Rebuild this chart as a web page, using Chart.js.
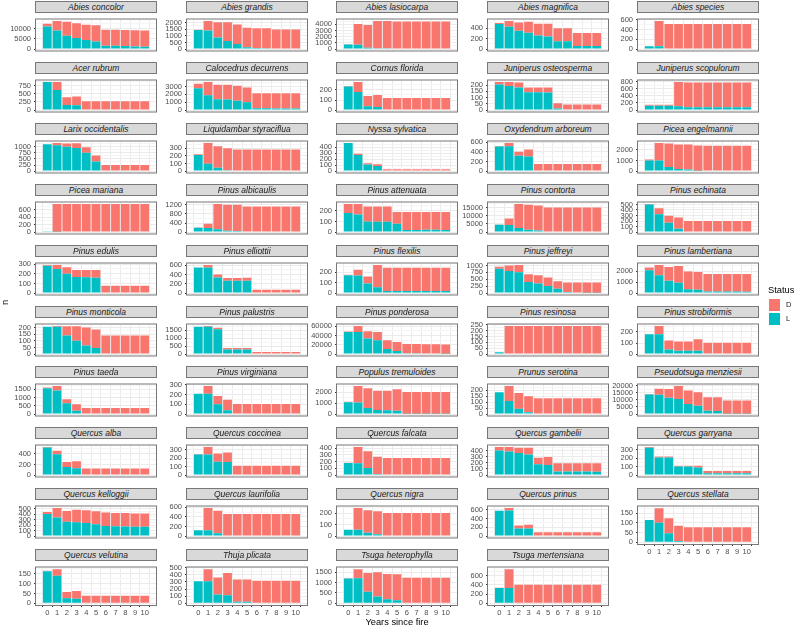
<!DOCTYPE html>
<html>
<head>
<meta charset="utf-8">
<script src="https://cdn.jsdelivr.net/npm/chart.js@4"></script>
<style>
  body { margin: 0; background: #fff; width: 796px; height: 627px; position: relative; overflow: hidden;
         font-family: "Liberation Sans", Arial, sans-serif; }
  canvas { position: absolute; }
  .strip { position: absolute; box-sizing: border-box; background: #d9d9d9; border: 1px solid #777;
           font-style: italic; font-size: 8.5px; line-height: 10px; color: #1a1a1a; text-align: center;
           white-space: nowrap; overflow: hidden; }
  .txt { position: absolute; color: #000; white-space: nowrap; }
  .key { position: absolute; }
</style>
</head>
<body>
<script>
// Data: live (L) and dead (D) counts per year since fire
const years = [0, 1, 2, 3, 4, 5, 6, 7, 8, 9, 10];

const species = [
  "Abies concolor", "Abies grandis", "Abies lasiocarpa", "Abies magnifica", "Abies species",
  "Acer rubrum", "Calocedrus decurrens", "Cornus florida", "Juniperus osteosperma", "Juniperus scopulorum",
  "Larix occidentalis", "Liquidambar styraciflua", "Nyssa sylvatica", "Oxydendrum arboreum", "Picea engelmannii",
  "Picea mariana", "Pinus albicaulis", "Pinus attenuata", "Pinus contorta", "Pinus echinata",
  "Pinus edulis", "Pinus elliottii", "Pinus flexilis", "Pinus jeffreyi", "Pinus lambertiana",
  "Pinus monticola", "Pinus palustris", "Pinus ponderosa", "Pinus resinosa", "Pinus strobiformis",
  "Pinus taeda", "Pinus virginiana", "Populus tremuloides", "Prunus serotina", "Pseudotsuga menziesii",
  "Quercus alba", "Quercus coccinea", "Quercus falcata", "Quercus gambelii", "Quercus garryana",
  "Quercus kelloggii", "Quercus laurifolia", "Quercus nigra", "Quercus prinus", "Quercus stellata",
  "Quercus velutina", "Thuja plicata", "Tsuga heterophylla", "Tsuga mertensiana"
];

const liveCounts = [
  [11200, 9200, 6600, 5500, 4500, 3800, 1700, 1600, 1500, 1300, 1100],
  [1440, 1400, 870, 600, 380, 130, 80, 70, 0, 0, 0],
  [750, 700, 200, 150, 150, 0, 0, 0, 0, 0, 0],
  [480, 430, 350, 315, 260, 240, 150, 150, 60, 60, 60],
  [60, 60, 0, 0, 0, 0, 0, 0, 0, 0, 0],
  [870, 620, 160, 150, 0, 0, 0, 0, 0, 0, 0],
  [2800, 1900, 1400, 1350, 1200, 1000, 250, 250, 200, 200, 200],
  [235, 180, 38, 30, 0, 0, 0, 0, 0, 0, 0],
  [205, 192, 180, 143, 143, 140, 12, 0, 0, 0, 0],
  [120, 120, 120, 110, 80, 80, 80, 80, 80, 80, 80],
  [1100, 1060, 1000, 950, 750, 390, 0, 0, 0, 0, 0],
  [210, 95, 45, 10, 0, 0, 0, 0, 0, 0, 0],
  [470, 270, 110, 85, 0, 0, 0, 0, 0, 0, 0],
  [510, 515, 320, 305, 0, 0, 0, 0, 0, 0, 0],
  [1000, 1000, 380, 200, 150, 30, 0, 0, 0, 0, 0],
  [8, 10, 0, 0, 0, 0, 0, 0, 0, 0, 0],
  [190, 185, 120, 60, 50, 0, 0, 0, 0, 0, 0],
  [180, 165, 100, 97, 97, 78, 20, 20, 22, 22, 20],
  [4500, 4300, 2500, 1500, 1000, 0, 0, 0, 0, 0, 0],
  [500, 325, 170, 60, 0, 0, 0, 0, 0, 0, 0],
  [282, 250, 200, 168, 165, 160, 0, 0, 0, 0, 0],
  [555, 555, 335, 265, 265, 265, 0, 0, 0, 0, 0],
  [170, 168, 92, 55, 20, 20, 20, 20, 20, 20, 20],
  [880, 800, 750, 400, 350, 260, 160, 40, 20, 10, 10],
  [2100, 1650, 1150, 950, 350, 300, 150, 150, 150, 150, 130],
  [205, 205, 140, 100, 65, 45, 0, 0, 0, 0, 0],
  [1700, 1700, 1550, 280, 280, 280, 0, 0, 0, 0, 0],
  [48000, 48000, 34000, 30000, 11000, 6500, 2000, 2000, 1500, 1500, 1000],
  [15, 0, 0, 0, 0, 0, 0, 0, 0, 0, 0],
  [180, 180, 42, 30, 30, 30, 0, 0, 0, 0, 0],
  [1560, 1420, 650, 200, 0, 0, 0, 0, 0, 0, 0],
  [210, 210, 100, 40, 0, 0, 0, 0, 0, 0, 0],
  [1100, 1080, 570, 370, 350, 300, 30, 30, 30, 30, 30],
  [185, 110, 45, 15, 0, 0, 0, 0, 0, 0, 0],
  [13700, 13600, 11500, 10500, 7000, 5800, 2300, 2200, 200, 200, 200],
  [520, 390, 150, 130, 0, 0, 0, 0, 0, 0, 0],
  [245, 245, 160, 155, 0, 0, 0, 0, 0, 0, 0],
  [180, 175, 105, 15, 0, 0, 0, 0, 0, 0, 0],
  [400, 385, 360, 335, 175, 165, 60, 60, 60, 60, 55],
  [325, 210, 210, 102, 102, 90, 22, 22, 22, 22, 22],
  [405, 340, 260, 255, 240, 215, 185, 180, 175, 172, 170],
  [120, 120, 60, 0, 0, 0, 0, 0, 0, 0, 0],
  [55, 55, 28, 15, 0, 0, 0, 0, 0, 0, 0],
  [575, 580, 175, 175, 0, 0, 0, 0, 0, 0, 0],
  [115, 100, 47, 7, 0, 0, 0, 0, 0, 0, 0],
  [163, 140, 25, 23, 0, 0, 0, 0, 0, 0, 0],
  [308, 310, 125, 112, 20, 20, 0, 0, 0, 0, 0],
  [1200, 1210, 560, 330, 190, 150, 0, 0, 0, 0, 0],
  [330, 330, 0, 0, 0, 0, 0, 0, 0, 0, 0]
];

const deadCounts = [
  [1300, 4700, 6900, 7300, 7500, 7900, 7900, 7900, 7900, 8000, 8100],
  [10, 720, 1140, 1410, 1470, 1470, 1490, 1500, 1480, 1480, 1480],
  [50, 3350, 3700, 4400, 4400, 4450, 4450, 4450, 4450, 4450, 4450],
  [20, 110, 160, 210, 225, 245, 250, 250, 250, 250, 250],
  [0, 520, 515, 515, 515, 515, 515, 515, 515, 515, 515],
  [0, 250, 240, 270, 270, 270, 270, 270, 270, 270, 270],
  [550, 1700, 1850, 1900, 1900, 1900, 1900, 1900, 1950, 1950, 1950],
  [5, 100, 102, 120, 120, 120, 120, 120, 120, 120, 120],
  [20, 33, 40, 37, 37, 40, 43, 45, 45, 45, 45],
  [30, 30, 30, 680, 690, 690, 690, 690, 690, 690, 690],
  [0, 100, 140, 200, 230, 250, 250, 250, 250, 250, 250],
  [10, 275, 280, 290, 285, 285, 285, 285, 285, 285, 285],
  [0, 20, 20, 30, 30, 30, 30, 30, 30, 30, 30],
  [10, 70, 80, 145, 145, 145, 145, 145, 145, 145, 145],
  [100, 1650, 2220, 2300, 2350, 2370, 2380, 2380, 2380, 2380, 2380],
  [0, 750, 760, 760, 760, 760, 760, 760, 760, 760, 760],
  [10, 185, 1120, 1140, 1150, 1130, 1130, 1130, 1130, 1130, 1130],
  [85, 100, 140, 143, 143, 112, 168, 168, 166, 166, 168],
  [200, 4000, 14700, 15200, 15200, 15000, 15000, 15000, 15000, 15000, 15000],
  [10, 105, 125, 205, 200, 200, 200, 200, 200, 200, 200],
  [10, 40, 68, 72, 75, 78, 75, 75, 75, 75, 75],
  [0, 55, 65, 60, 60, 65, 70, 70, 70, 70, 70],
  [5, 54, 66, 213, 220, 220, 220, 220, 220, 220, 220],
  [70, 200, 270, 280, 300, 300, 270, 345, 365, 375, 375],
  [250, 950, 1250, 1550, 1650, 1650, 1600, 1600, 1600, 1600, 1620],
  [0, 7, 70, 110, 135, 140, 140, 140, 140, 140, 140],
  [0, 60, 100, 100, 100, 100, 130, 130, 130, 130, 130],
  [1000, 13000, 15500, 18000, 19000, 19500, 20000, 20000, 20000, 20000, 20000],
  [0, 240, 240, 240, 240, 240, 240, 240, 240, 240, 240],
  [0, 75, 80, 85, 85, 105, 103, 103, 103, 103, 103],
  [40, 280, 250, 400, 360, 360, 360, 360, 360, 360, 360],
  [0, 80, 85, 108, 105, 105, 105, 105, 105, 105, 105],
  [50, 1520, 1810, 1780, 1800, 2000, 2000, 2000, 2000, 2000, 2000],
  [0, 128, 133, 135, 133, 133, 133, 133, 133, 133, 133],
  [300, 4200, 6000, 9200, 9500, 9400, 9500, 9600, 9300, 9300, 9300],
  [10, 70, 95, 128, 122, 122, 122, 122, 122, 122, 122],
  [5, 90, 98, 115, 112, 112, 112, 112, 112, 112, 112],
  [5, 245, 250, 260, 255, 255, 255, 255, 255, 255, 255],
  [60, 75, 85, 110, 110, 130, 135, 135, 135, 135, 140],
  [10, 10, 10, 8, 8, 20, 28, 28, 28, 28, 28],
  [35, 175, 200, 225, 230, 240, 245, 240, 245, 243, 245],
  [0, 465, 465, 460, 460, 460, 460, 460, 460, 460, 460],
  [0, 190, 197, 200, 200, 200, 200, 200, 200, 200, 200],
  [0, 60, 65, 85, 85, 85, 85, 85, 85, 85, 85],
  [0, 75, 76, 78, 77, 77, 77, 77, 77, 77, 77],
  [2, 33, 32, 39, 38, 38, 38, 38, 38, 38, 38],
  [0, 168, 237, 313, 312, 312, 315, 315, 315, 315, 315],
  [10, 440, 910, 1170, 1230, 1250, 1240, 1240, 1240, 1240, 1240],
  [5, 410, 400, 400, 400, 400, 400, 400, 400, 400, 400]
];

const yTicks = [
  [0, 5000, 10000], [0, 500, 1000, 1500, 2000], [0, 1000, 2000, 3000, 4000], [0, 200, 400], [0, 200, 400, 600],
  [0, 250, 500, 750], [0, 1000, 2000, 3000], [0, 100, 200], [0, 50, 100, 150, 200], [0, 200, 400, 600, 800],
  [0, 250, 500, 750, 1000], [0, 100, 200, 300], [0, 100, 200, 300, 400], [0, 200, 400, 600], [0, 1000, 2000],
  [0, 200, 400, 600], [0, 400, 800, 1200], [0, 100, 200], [0, 5000, 10000, 15000], [0, 100, 200, 300, 400, 500],
  [0, 100, 200, 300], [0, 200, 400, 600], [0, 100, 200], [0, 250, 500, 750, 1000], [0, 1000, 2000],
  [0, 50, 100, 150, 200], [0, 500, 1000, 1500], [0, 20000, 40000, 60000], [0, 50, 100, 150, 200, 250], [0, 100, 200],
  [0, 500, 1000, 1500], [0, 100, 200, 300], [0, 1000, 2000], [0, 50, 100, 150, 200], [0, 5000, 10000, 15000, 20000],
  [0, 200, 400], [0, 100, 200, 300], [0, 100, 200, 300, 400], [0, 100, 200, 300, 400], [0, 100, 200, 300],
  [0, 100, 200, 300, 400, 500], [0, 200, 400, 600], [0, 100, 200], [0, 200, 400, 600], [0, 50, 100, 150],
  [0, 50, 100, 150], [0, 100, 200, 300, 400, 500], [0, 500, 1000, 1500], [0, 200, 400, 600]
];

const statusLabels = ["D", "L"];
const statusColors = ["#F8766D", "#00BFC4"];

Chart.defaults.font.family = '"Liberation Sans", Arial, sans-serif';
Chart.defaults.color = '#4d4d4d';

// thin dark frame around each panel, like theme_bw
const panelBorder = {
  id: 'panelBorder',
  afterDraw(chart) {
    const a = chart.chartArea;
    const ctx = chart.ctx;
    ctx.save();
    ctx.strokeStyle = '#777';
    ctx.lineWidth = 1;
    ctx.strokeRect(a.left - 0.5, a.top - 0.5, a.right - a.left + 1, a.bottom - a.top + 1);
    ctx.restore();
  }
};

function addText(text, css) {
  const d = document.createElement('div');
  d.className = 'txt';
  d.textContent = text;
  Object.assign(d.style, css);
  document.body.appendChild(d);
  return d;
}

species.forEach((name, i) => {
  const r = Math.floor(i / 5);
  const c = i % 5;
  const bottom = r === 9 || (r === 8 && c === 4);
  const stripTop = Math.round(1 + 60.9 * r);
  const plotTop = stripTop + 12;
  const left = Math.round(36 + 150.5 * c) - 36;

  const strip = document.createElement('div');
  strip.className = 'strip';
  strip.textContent = name;
  Object.assign(strip.style, { left: (left + 35) + 'px', top: stripTop + 'px', width: '122px', height: '12px' });
  document.body.appendChild(strip);

  const cv = document.createElement('canvas');
  cv.width = 158;
  cv.height = 1 + 44 + (bottom ? 14 : 1);
  cv.style.left = left + 'px';
  cv.style.top = (plotTop - 1) + 'px';
  document.body.appendChild(cv);

  const live = liveCounts[i];
  const dead = deadCounts[i];
  const top = Math.max(...live.map((v, k) => v + dead[k]));
  const major = yTicks[i];
  const step = major[1] - major[0];
  const minor = [];
  for (let v = major[0] + step / 2; v <= top * 1.05; v += step) minor.push(v);
  const isMajor = (v) => major.includes(v);

  new Chart(cv, {
    type: 'bar',
    data: {
      datasets: [
        { label: 'L', data: live.map((v, k) => ({ x: years[k], y: v })), backgroundColor: statusColors[1] },
        { label: 'D', data: dead.map((v, k) => ({ x: years[k], y: v })), backgroundColor: statusColors[0] }
      ].map(ds => Object.assign(ds, { stack: 's', borderWidth: 0, barPercentage: 0.9, categoryPercentage: 1 }))
    },
    options: {
      responsive: false,
      animation: false,
      devicePixelRatio: 1,
      layout: { padding: { top: 1, right: 2, left: 0, bottom: 0 } },
      plugins: { legend: { display: false }, tooltip: { enabled: false } },
      scales: {
        x: {
          type: 'linear',
          min: -0.6,
          max: 10.6,
          afterBuildTicks: (s) => { s.ticks = years.map(v => ({ value: v })); },
          afterFit: (s) => { s.height = bottom ? 14 : 1; },
          ticks: { display: bottom, autoSkip: false, maxRotation: 0, padding: 1, font: { size: 7.5 },
                   color: '#4d4d4d', callback: (v) => String(v) },
          grid: { color: '#ebebeb', lineWidth: 1, drawTicks: bottom, tickLength: 2, tickColor: '#333' },
          border: { display: false }
        },
        y: {
          stacked: true,
          min: -0.05 * top,
          max: 1.05 * top,
          afterBuildTicks: (s) => {
            s.ticks = major.concat(minor).sort((a, b) => a - b).map(v => ({ value: v }));
          },
          afterFit: (s) => { s.width = 36; },
          ticks: { autoSkip: false, padding: 3, font: { size: 7.5 }, color: '#4d4d4d',
                   callback: (v) => isMajor(v) ? String(v) : '' },
          grid: {
            lineWidth: 1,
            tickLength: 2,
            color: (ctx) => (ctx.tick && isMajor(ctx.tick.value)) ? '#ebebeb' : '#f5f5f5',
            tickColor: (ctx) => (ctx.tick && isMajor(ctx.tick.value)) ? '#333' : 'rgba(0,0,0,0)'
          },
          border: { display: false }
        }
      }
    },
    plugins: [panelBorder]
  });
});

// axis titles
addText('Years since fire', { left: '0px', width: '794px', textAlign: 'center', top: '617px', fontSize: '9.3px', lineHeight: '11px' });
addText('n', { left: '0px', top: '297px', fontSize: '9.3px', lineHeight: '11px', transform: 'rotate(-90deg)', width: '11px', textAlign: 'center' });

// legend
addText('Status', { left: '768px', top: '285px', fontSize: '9.3px', lineHeight: '11px' });
statusLabels.forEach((lab, k) => {
  const box = document.createElement('div');
  box.className = 'key';
  Object.assign(box.style, { left: '769px', top: (299 + 14 * k) + 'px', width: '11px', height: '12px', background: statusColors[k] });
  document.body.appendChild(box);
  addText(lab, { left: '786px', top: (300 + 14 * k) + 'px', fontSize: '7.5px', lineHeight: '10px', color: '#1a1a1a' });
});
</script>
</body>
</html>
